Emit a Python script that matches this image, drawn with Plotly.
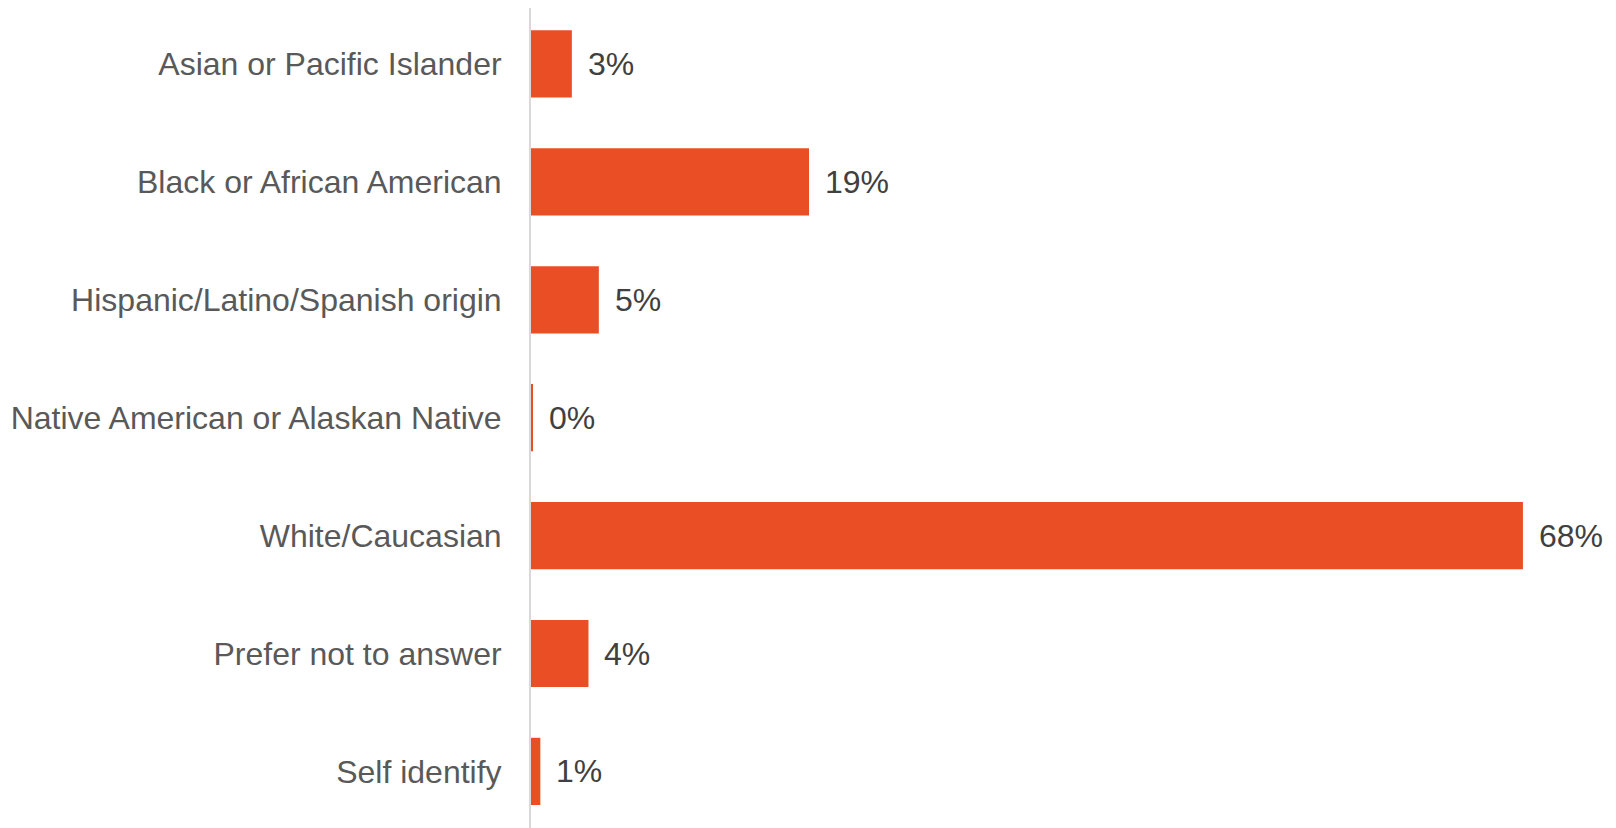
import plotly.graph_objects as go

categories = [
    "Asian or Pacific Islander",
    "Black or African American",
    "Hispanic/Latino/Spanish origin",
    "Native American or Alaskan Native",
    "White/Caucasian",
    "Prefer not to answer",
    "Self identify",
]
values = [2.8, 19.06, 4.65, 0.13, 68.0, 3.94, 0.64]
labels = ["3%", "19%", "5%", "0%", "68%", "4%", "1%"]

BAR_COLOR = "#E94E24"

fig = go.Figure()
fig.add_trace(go.Bar(
    x=values,
    y=categories,
    orientation="h",
    marker=dict(color=BAR_COLOR, line=dict(width=0)),
    width=0.57,
    hoverinfo="skip",
))

for v, c, t in zip(values, categories, labels):
    fig.add_annotation(
        x=v, y=c, text=t, showarrow=False,
        xanchor="left", yanchor="middle", xshift=14,
        font=dict(family="Liberation Sans, Arial, sans-serif", size=32, color="#404040"),
    )

# page has an 8px body margin; figure is sized to fill the remaining viewport
fig.update_layout(
    width=1608, height=820,
    margin=dict(l=523, r=0, t=0, b=0),
    paper_bgcolor="white", plot_bgcolor="white",
    showlegend=False,
    xaxis=dict(visible=False, range=[0, 74.38], fixedrange=True),
    yaxis=dict(
        type="category",
        range=[6.48, -0.4746],
        showline=True, linecolor="#D9D9D9", linewidth=2,
        showgrid=False, zeroline=False,
        ticks="", ticklabelstandoff=21,
        tickfont=dict(family="Liberation Sans, Arial, sans-serif", size=32, color="#595959"),
    ),
)

fig.write_html("out.html")
